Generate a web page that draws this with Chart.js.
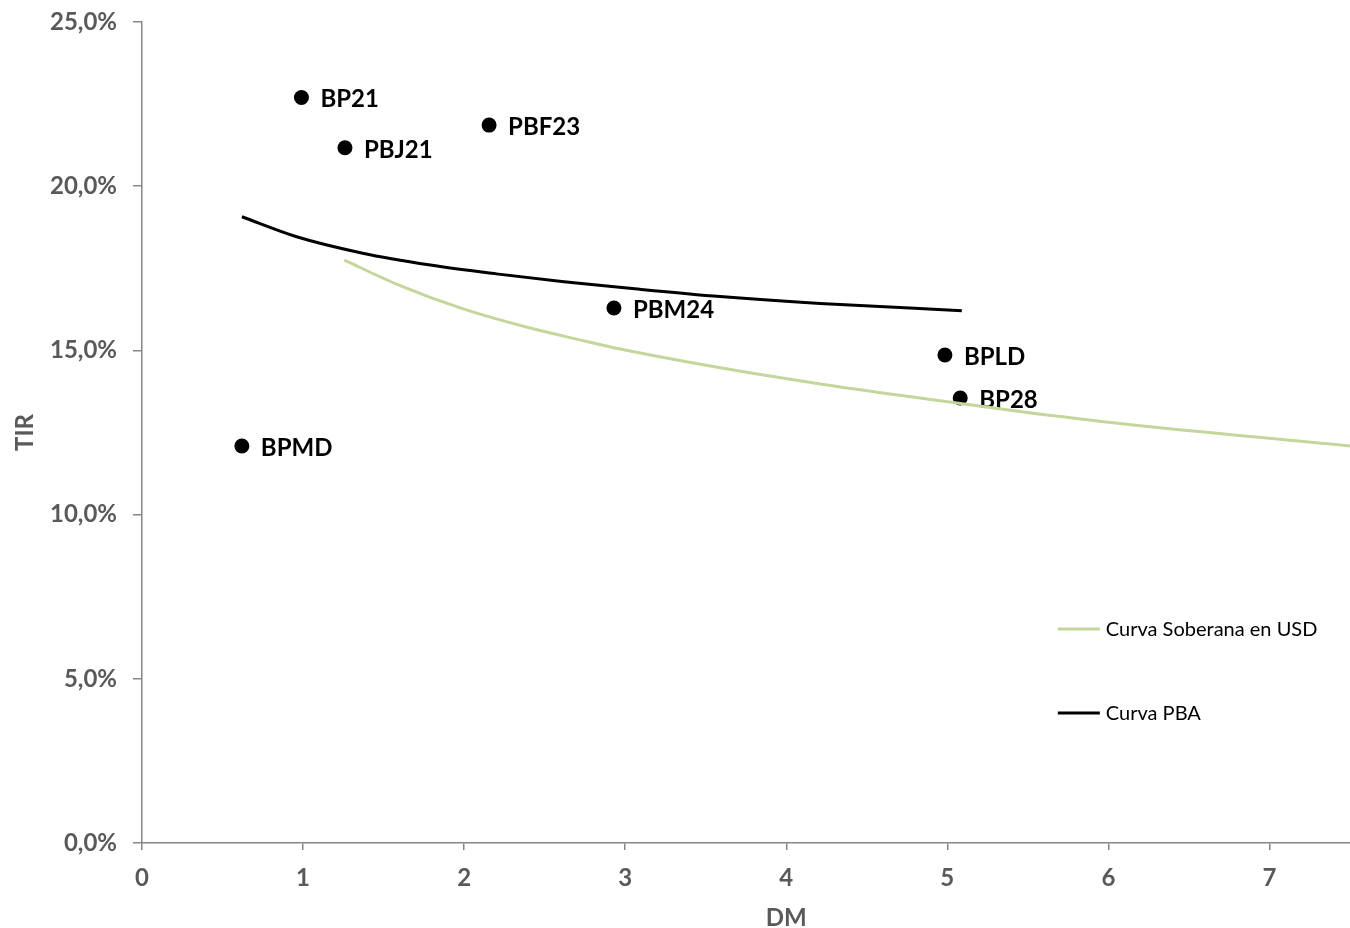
<!DOCTYPE html>
<html>
<head>
<meta charset="utf-8">
<script src="https://cdn.jsdelivr.net/npm/chart.js@4"></script>
<style>
    body { margin: 0; background: #fff; }
    #wrap { width: 1350px; height: 928px; position: relative; }
</style>
</head>
<body>
<div id="wrap"><canvas id="tirChart"></canvas></div>
<script>
// bonos PBA y soberanos: duracion modificada vs TIR (%)
const bondNames = ['BP21', 'PBJ21', 'PBF23', 'PBM24', 'BPLD', 'BP28', 'BPMD'];
const bondDM = [0.99, 1.26, 2.155, 2.93, 4.985, 5.08, 0.62];
const bondTIR = [22.70, 21.17, 21.86, 16.29, 14.86, 13.55, 12.09];

// Curva PBA
const pbaDM = [0.62, 0.96, 1.37, 1.79, 2.20, 2.62, 3.03, 3.59, 4.21, 5.09];
const pbaTIR = [19.07, 18.46, 17.96, 17.60, 17.33, 17.09, 16.89, 16.64, 16.43, 16.21];

// Curva Soberana en USD
const sobDM = [1.256, 1.58, 1.99, 2.41, 2.72, 2.97, 3.59, 4.21, 4.83, 5.45, 6.10, 7.5];
const sobTIR = [17.75, 17.02, 16.27, 15.68, 15.32, 15.04, 14.47, 13.98, 13.55, 13.14, 12.76, 12.09];

const xTicks = [0, 1, 2, 3, 4, 5, 6, 7];

const axisGray = '#868686';
const textGray = '#595959';
const green = '#c3d69b';

const toXY = (xs, ys) => xs.map((x, i) => ({ x: x, y: ys[i] }));

// labels next to each bond point
const pointLabels = {
    id: 'pointLabels',
    afterDatasetDraw(chart, args) {
        if (args.index !== 0) return;
        const ctx = chart.ctx;
        ctx.save();
        ctx.font = 'bold 24px Lato';
        ctx.fillStyle = '#000';
        ctx.textBaseline = 'middle';
        args.meta.data.forEach((pt, i) => {
            ctx.fillText(bondNames[i], pt.x + 19, pt.y + 2);
        });
        ctx.restore();
    }
};

// legend drawn inside the plot, bottom right + the DM axis title
const innerLegend = {
    id: 'innerLegend',
    afterDraw(chart) {
        const ctx = chart.ctx;
        const xs = chart.scales.x, ys = chart.scales.y;
        const items = [
            { text: chart.data.datasets[2].label, color: green, y: ys.getPixelForValue(6.52) },
            { text: chart.data.datasets[1].label, color: '#000', y: ys.getPixelForValue(3.96) }
        ];
        const x0 = xs.getPixelForValue(5.686);
        ctx.save();
        ctx.font = '20px Lato';
        ctx.textBaseline = 'middle';
        items.forEach(it => {
            ctx.strokeStyle = it.color;
            ctx.lineWidth = 3;
            ctx.beginPath();
            ctx.moveTo(x0, it.y);
            ctx.lineTo(x0 + 42, it.y);
            ctx.stroke();
            ctx.fillStyle = '#000';
            ctx.fillText(it.text, x0 + 48, it.y + 1);
        });

        ctx.font = 'bold 24px Lato';
        ctx.fillStyle = textGray;
        ctx.textAlign = 'center';
        ctx.fillText('DM', xs.getPixelForValue(4), chart.height - 10);
        ctx.restore();
    }
};

new Chart(document.getElementById('tirChart'), {
    type: 'scatter',
    data: {
        datasets: [
            {
                label: 'Bonos',
                data: toXY(bondDM, bondTIR),
                pointRadius: 7.5,
                pointHoverRadius: 7.5,
                backgroundColor: '#000',
                borderWidth: 0,
                order: 2
            },
            {
                type: 'line',
                label: 'Curva PBA',
                data: toXY(pbaDM, pbaTIR),
                borderColor: '#000',
                borderWidth: 3,
                pointRadius: 0,
                cubicInterpolationMode: 'monotone',
                fill: false,
                order: 1
            },
            {
                type: 'line',
                label: 'Curva Soberana en USD',
                data: toXY(sobDM, sobTIR),
                borderColor: green,
                borderWidth: 3,
                pointRadius: 0,
                cubicInterpolationMode: 'monotone',
                fill: false,
                order: 0
            }
        ]
    },
    options: {
        responsive: true,
        maintainAspectRatio: false,
        animation: false,
        layout: { autoPadding: false, padding: { top: 22, right: 0, left: 0, bottom: 0 } },
        plugins: {
            legend: { display: false },
            tooltip: { enabled: false }
        },
        scales: {
            x: {
                type: 'linear',
                min: 0,
                max: 7.5,
                afterFit: (s) => {
                    s.height = 85;
                    s.paddingLeft = 0;
                    s.paddingRight = 0;
                },
                afterBuildTicks: (s) => { s.ticks = xTicks.map(v => ({ value: v })); },
                border: { display: true, color: axisGray, width: 1.5 },
                grid: { drawOnChartArea: false, drawTicks: true, tickLength: 7, color: axisGray, lineWidth: 1.5 },
                ticks: {
                    padding: 14,
                    color: textGray,
                    font: { family: 'Lato', size: 24, weight: 'bold' }
                }
            },
            y: {
                min: 0,
                max: 25,
                afterFit: (s) => {
                    s.width = 142;
                    s.paddingTop = 0;
                    s.paddingBottom = 0;
                },
                border: { display: true, color: axisGray, width: 1.5 },
                grid: { drawOnChartArea: false, drawTicks: true, tickLength: 9, color: axisGray, lineWidth: 1.5 },
                ticks: {
                    stepSize: 5,
                    padding: 16,
                    color: textGray,
                    font: { family: 'Lato', size: 24, weight: 'bold' },
                    callback: (v) => v.toFixed(1).replace('.', ',') + '%'
                },
                title: {
                    display: true,
                    text: 'TIR',
                    color: textGray,
                    padding: { top: 11, bottom: 0 },
                    font: { family: 'Lato', size: 24, weight: 'bold' }
                }
            }
        }
    },
    plugins: [pointLabels, innerLegend]
});
</script>
</body>
</html>
